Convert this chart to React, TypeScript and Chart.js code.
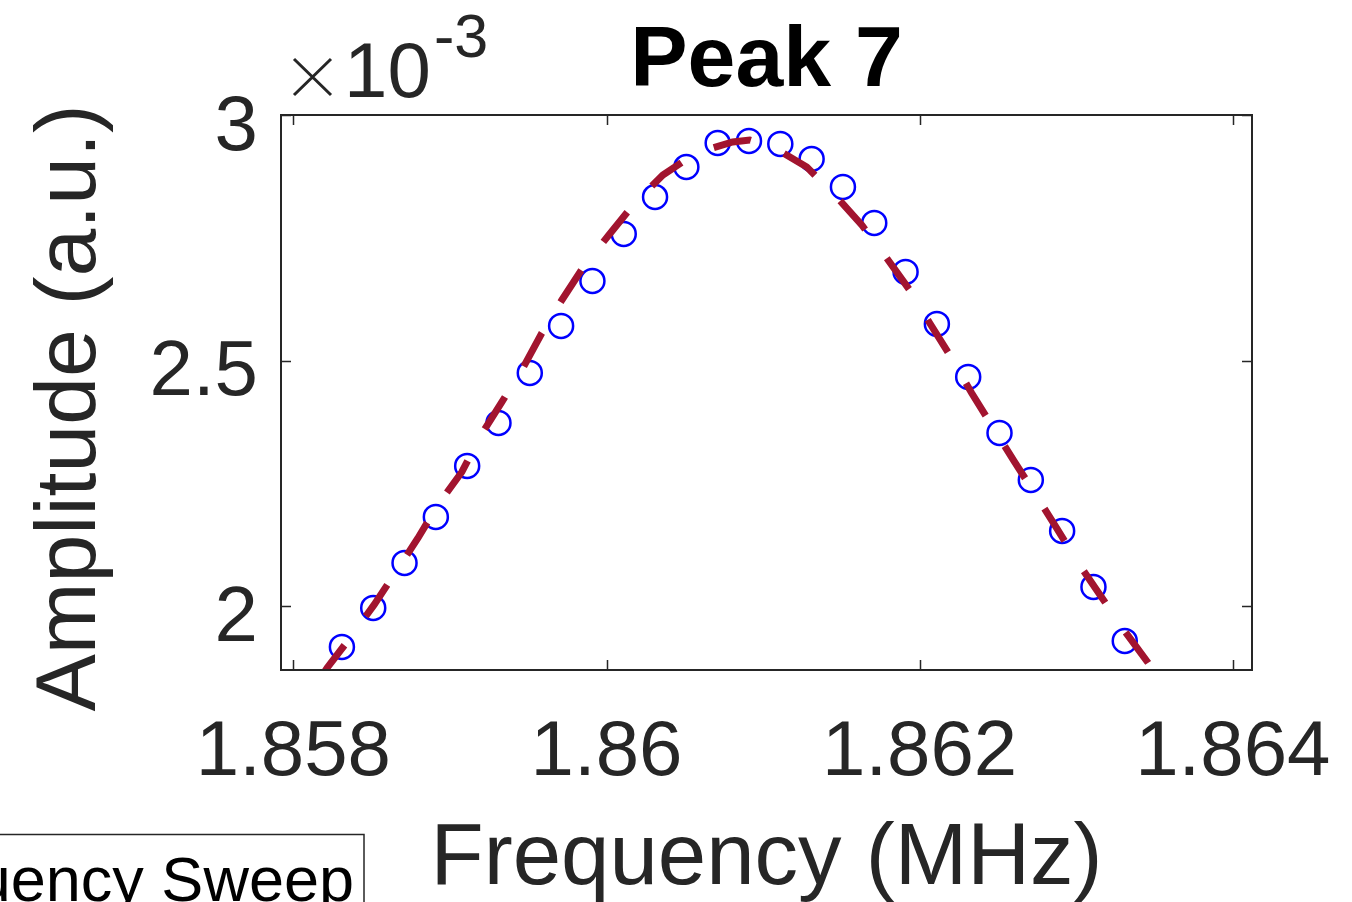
import React, { useEffect, useRef } from 'react';
import { Chart, registerables } from 'chart.js';

Chart.register(...registerables);

// Measured frequency sweep (MHz) and amplitude (x 10^-3 a.u.)
const sweepFreq = [
  1.85831, 1.85851, 1.85871, 1.85891, 1.85911, 1.85931, 1.85951, 1.85971, 1.85991,
  1.86011, 1.86031, 1.86051, 1.86071, 1.86091, 1.86111, 1.86131, 1.86151, 1.86171,
  1.86191, 1.86211, 1.86231, 1.86251, 1.86271, 1.86291, 1.86311, 1.86331,
];
const sweepAmp = [
  1.9175, 1.9969, 2.0886, 2.1823, 2.2862, 2.3737, 2.4756, 2.5713, 2.6629,
  2.7587, 2.834, 2.8951, 2.944, 2.9481, 2.942, 2.9114, 2.8544, 2.7811,
  2.6813, 2.5754, 2.4674, 2.3534, 2.2576, 2.1538, 2.0397, 1.9297,
];

// Fitted curve
const fitFreq = [
  1.858183, 1.858215, 1.858362, 1.858515, 1.858655, 1.858796, 1.858923, 1.859076,
  1.859191, 1.859332, 1.859466, 1.859587, 1.859715, 1.859861, 1.860015, 1.860181,
  1.86036, 1.86057, 1.860806, 1.860915, 1.861062, 1.861279, 1.86147, 1.86163,
  1.861789, 1.861936, 1.862064, 1.862204, 1.862332, 1.862466, 1.862606, 1.862734,
  1.862874, 1.863008, 1.863161, 1.863295, 1.863455, 1.863531,
];
const fitAmp = [
  1.8585, 1.8747, 1.9358, 2.0031, 2.0703, 2.1395, 2.2067, 2.2739,
  2.3452, 2.4165, 2.4857, 2.557, 2.6242, 2.6955, 2.7566, 2.8218,
  2.8788, 2.9236, 2.946, 2.9501, 2.9358, 2.8951, 2.834, 2.777,
  2.7098, 2.6446, 2.5774, 2.5061, 2.4348, 2.3656, 2.2943, 2.2312,
  2.1599, 2.0906, 2.0193, 1.9562, 1.887, 1.8503,
];

const xTicks = [1.858, 1.86, 1.862, 1.864];
const xTickLabels = ['1.858', '1.86', '1.862', '1.864'];
const yTicks = [2, 2.5, 3];
const yTickLabels = ['2', '2.5', '3'];

const titleText = 'Peak 7';
const xTitle = 'Frequency (MHz)';
const yTitle = 'Amplitude (a.u.)';
const legendText = 'Frequency Sweep';

const FONT = '"Liberation Sans", Arial, Helvetica, sans-serif';
const AX = '#262626';

const decorPlugin = {
  id: 'matlabDecor',
  afterDatasetsDraw(chart: any) {
    const ctx = chart.ctx as CanvasRenderingContext2D;
    const { left, right, top, bottom } = chart.chartArea;
    const xs = chart.scales.x;
    const ys = chart.scales.y;
    ctx.save();
    // box
    ctx.strokeStyle = AX;
    ctx.lineWidth = 2;
    ctx.strokeRect(left, top, right - left, bottom - top);
    // ticks
    ctx.lineWidth = 1.5;
    ctx.beginPath();
    xTicks.forEach((v) => {
      const px = Math.round(xs.getPixelForValue(v)) + 0.5;
      ctx.moveTo(px, bottom);
      ctx.lineTo(px, bottom - 10);
      ctx.moveTo(px, top);
      ctx.lineTo(px, top + 10);
    });
    yTicks.forEach((v) => {
      const py = Math.round(ys.getPixelForValue(v)) + 0.5;
      ctx.moveTo(left, py);
      ctx.lineTo(left + 10, py);
      ctx.moveTo(right, py);
      ctx.lineTo(right - 10, py);
    });
    ctx.stroke();

    // tick labels
    ctx.fillStyle = AX;
    ctx.font = `78px ${FONT}`;
    ctx.textBaseline = 'alphabetic';
    ctx.textAlign = 'center';
    xTicks.forEach((v, i) => {
      ctx.fillText(xTickLabels[i], xs.getPixelForValue(v), 775);
    });
    ctx.textAlign = 'right';
    yTicks.forEach((v, i) => {
      ctx.fillText(yTickLabels[i], 258, ys.getPixelForValue(v) + 34.5);
    });

    // exponent: multiplication sign, 10 and superscript -3
    ctx.strokeStyle = AX;
    ctx.lineWidth = 3;
    ctx.beginPath();
    ctx.moveTo(294, 59);
    ctx.lineTo(331, 95);
    ctx.moveTo(331, 59);
    ctx.lineTo(294, 95);
    ctx.stroke();
    ctx.textAlign = 'left';
    ctx.font = `78px ${FONT}`;
    ctx.fillText('10', 344, 97);
    ctx.font = `61px ${FONT}`;
    ctx.fillText('-3', 434, 57);

    // title
    ctx.fillStyle = '#000000';
    ctx.font = `bold 86px ${FONT}`;
    ctx.textAlign = 'center';
    ctx.fillText(titleText, (left + right) / 2, 86);

    // axis titles
    ctx.fillStyle = AX;
    ctx.font = `87px ${FONT}`;
    ctx.fillText(xTitle, (left + right) / 2, 884);
    ctx.save();
    ctx.translate(95, 408);
    ctx.rotate(-Math.PI / 2);
    ctx.font = `86px ${FONT}`;
    ctx.textAlign = 'center';
    ctx.fillText(yTitle, 0, 0);
    ctx.restore();

    // legend (partly off-canvas)
    ctx.fillStyle = '#ffffff';
    ctx.fillRect(-20, 834, 384, 120);
    ctx.strokeStyle = AX;
    ctx.lineWidth = 1.5;
    ctx.strokeRect(-20, 834.5, 384, 120);
    ctx.fillStyle = '#000000';
    ctx.font = `63px ${FONT}`;
    ctx.textAlign = 'right';
    ctx.fillText(legendText, 354, 901);
    ctx.restore();
  },
};

export default function App() {
  const ref = useRef<HTMLCanvasElement | null>(null);
  useEffect(() => {
    if (!ref.current) return;
    const chart = new Chart(ref.current, {
      type: 'scatter',
      data: {
        datasets: [
          {
            label: 'Fit',
            data: fitFreq.map((f, i) => ({ x: f, y: fitAmp[i] })),
            showLine: true,
            borderColor: '#A2142F',
            borderWidth: 7,
            borderDash: [38, 36],
            borderCapStyle: 'butt',
            pointRadius: 0,
            tension: 0,
            fill: false,
            clip: 0,
          } as any,
          {
            label: legendText,
            data: sweepFreq.map((f, i) => ({ x: f, y: sweepAmp[i] })),
            showLine: false,
            pointStyle: 'circle',
            pointRadius: 12,
            pointBorderWidth: 2.5,
            borderColor: '#0000FF',
            backgroundColor: 'rgba(0,0,0,0)',
            pointBackgroundColor: 'rgba(0,0,0,0)',
            pointBorderColor: '#0000FF',
            clip: 20,
          } as any,
        ],
      },
      options: {
        animation: false,
        responsive: false,
        devicePixelRatio: 1,
        layout: { padding: { left: 281, right: 100, top: 115, bottom: 232 } },
        scales: {
          x: { type: 'linear', min: 1.857921, max: 1.8641226, display: false },
          y: { type: 'linear', min: 1.8705, max: 3.001, display: false },
        },
        plugins: {
          legend: { display: false },
          tooltip: { enabled: false },
          title: { display: false },
        },
      },
      plugins: [decorPlugin],
    });
    return () => chart.destroy();
  }, []);

  return (
    <div style={{ position: 'fixed', left: 0, top: 0, width: 1352, height: 902, background: '#fff' }}>
      <canvas ref={ref} width={1352} height={902} style={{ width: 1352, height: 902, display: 'block' }} />
    </div>
  );
}
